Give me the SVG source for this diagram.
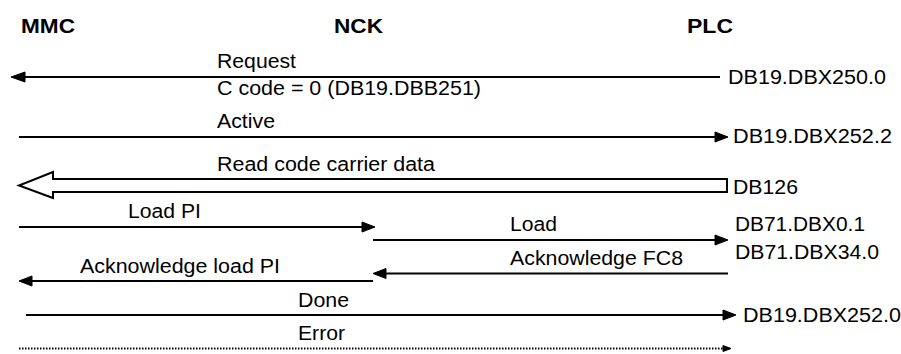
<svg xmlns="http://www.w3.org/2000/svg" width="901" height="354" viewBox="0 0 901 354">
  <style>
    text { font-family: "Liberation Sans", Arial, sans-serif; fill: #000; }
    .hdr { font-size: 21px; font-weight: bold; }
    .lbl { font-size: 20px; }
    .ln { stroke: #000; stroke-width: 2; fill: none; }
    .dot { stroke: #000; stroke-width: 2; fill: none; stroke-dasharray: 1.5 1.5; }
    .head { fill: #000; stroke: #000; stroke-width: 1; stroke-linejoin: miter; }
    .hollow { fill: #fff; stroke: #000; stroke-width: 2; stroke-linejoin: miter; }
  </style>

  <!-- Parties -->
  <g id="mmc"><text class="hdr" x="21" y="33" textLength="54" lengthAdjust="spacingAndGlyphs">MMC</text></g>
  <g id="nck"><text class="hdr" x="334" y="33" textLength="49" lengthAdjust="spacingAndGlyphs">NCK</text></g>
  <g id="plc"><text class="hdr" x="687" y="33" textLength="46" lengthAdjust="spacingAndGlyphs">PLC</text></g>

  <!-- Signal messages -->
  <g id="connectors">
    <g id="request">
      <line class="ln" x1="24" y1="77" x2="720" y2="77"/>
      <polygon class="head" points="11,77 25,72 25,82"/>
      <text class="lbl" x="217" y="68" textLength="79" lengthAdjust="spacingAndGlyphs">Request</text>
      <text class="lbl" x="217" y="95" textLength="264" lengthAdjust="spacingAndGlyphs">C code = 0 (DB19.DBB251)</text>
      <text class="lbl" x="728" y="84" textLength="158" lengthAdjust="spacingAndGlyphs">DB19.DBX250.0</text>
    </g>
    <g id="active">
      <line class="ln" x1="19" y1="137" x2="716" y2="137"/>
      <polygon class="head" points="715,132 728,137 715,142"/>
      <text class="lbl" x="217" y="128" textLength="58" lengthAdjust="spacingAndGlyphs">Active</text>
      <text class="lbl" x="733" y="143" textLength="159" lengthAdjust="spacingAndGlyphs">DB19.DBX252.2</text>
    </g>
    <g id="read-data">
      <polygon class="hollow" points="727,179 53,179 53,172 19,185.5 53,198 53,192 727,192"/>
      <text class="lbl" x="217" y="171" textLength="218" lengthAdjust="spacingAndGlyphs">Read code carrier data</text>
      <text class="lbl" x="733" y="194" textLength="65" lengthAdjust="spacingAndGlyphs">DB126</text>
    </g>
    <g id="load-pi">
      <line class="ln" x1="19" y1="227" x2="363" y2="227"/>
      <polygon class="head" points="362,222 375,227 362,232"/>
      <text class="lbl" x="128" y="218" textLength="73" lengthAdjust="spacingAndGlyphs">Load PI</text>
    </g>
    <g id="load">
      <line class="ln" x1="373" y1="240" x2="716" y2="240"/>
      <polygon class="head" points="715,235 728,240 715,245"/>
      <text class="lbl" x="510" y="231" textLength="47" lengthAdjust="spacingAndGlyphs">Load</text>
      <text class="lbl" x="735" y="231" textLength="130" lengthAdjust="spacingAndGlyphs">DB71.DBX0.1</text>
    </g>
    <g id="ack-fc8">
      <line class="ln" x1="385" y1="273.5" x2="728" y2="273.5"/>
      <polygon class="head" points="373,273.5 386,268.5 386,278.5"/>
      <text class="lbl" x="510" y="265" textLength="173" lengthAdjust="spacingAndGlyphs">Acknowledge FC8</text>
      <text class="lbl" x="735" y="259" textLength="144" lengthAdjust="spacingAndGlyphs">DB71.DBX34.0</text>
    </g>
    <g id="ack-load-pi">
      <line class="ln" x1="31" y1="281" x2="373" y2="281"/>
      <polygon class="head" points="19,281 32,276 32,286"/>
      <text class="lbl" x="80" y="273" textLength="200" lengthAdjust="spacingAndGlyphs">Acknowledge load PI</text>
    </g>
    <g id="done">
      <line class="ln" x1="26" y1="315" x2="724" y2="315"/>
      <polygon class="head" points="723,310 736,315 723,320"/>
      <text class="lbl" x="298" y="307" textLength="51" lengthAdjust="spacingAndGlyphs">Done</text>
      <text class="lbl" x="743" y="322" textLength="158" lengthAdjust="spacingAndGlyphs">DB19.DBX252.0</text>
    </g>
    <g id="error">
      <line class="dot" x1="19" y1="348.5" x2="725" y2="348.5"/>
      <polygon class="head" points="723,345.5 731,348.5 723,351.5"/>
      <text class="lbl" x="298" y="340" textLength="47" lengthAdjust="spacingAndGlyphs">Error</text>
    </g>
  </g>
</svg>
